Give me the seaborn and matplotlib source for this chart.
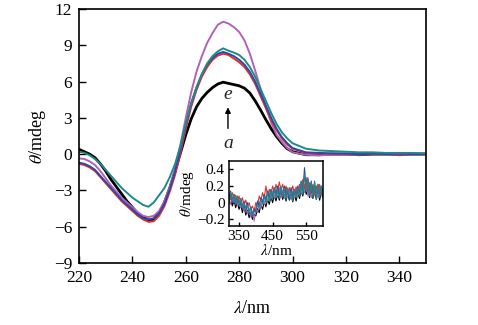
import numpy as np
import pandas as pd
import matplotlib
matplotlib.use("Agg")
import matplotlib.pyplot as plt
import seaborn as sns

# Main CD spectra (wavelength in nm, ellipticity in mdeg)
wavelength = [220, 222, 224, 226, 228, 230, 232, 234, 236, 238, 240, 242, 244, 246, 248,
              250, 252, 254, 256, 258, 260, 262, 264, 266, 268, 270, 272, 274, 276, 278,
              280, 282, 284, 286, 288, 290, 292, 294, 296, 298, 300,
              305, 310, 315, 320, 325, 330, 335, 340, 345, 350]

theta_a = [0.4, 0.2, 0.0, -0.3, -0.8, -1.4, -2.1, -2.7, -3.3, -3.9, -4.4, -4.9, -5.2, -5.45, -5.4,
           -4.9, -4.0, -2.8, -1.4, 0.1, 1.6, 2.9, 3.9, 4.6, 5.1, 5.5, 5.8, 5.95, 5.85, 5.75,
           5.65, 5.45, 5.05, 4.4, 3.65, 2.85, 2.1, 1.45, 0.9, 0.45, 0.2,
           -0.05, -0.05, 0.0, 0.0, -0.05, 0.0, 0.0, -0.05, 0.0, 0.0]
theta_b = [-0.8, -0.9, -1.1, -1.4, -1.9, -2.4, -2.9, -3.4, -3.9, -4.3, -4.7, -5.1, -5.4, -5.6, -5.55,
           -5.1, -4.3, -3.1, -1.7, 0.1, 2.1, 3.9, 5.3, 6.4, 7.2, 7.8, 8.15, 8.3, 8.2, 7.9,
           7.6, 7.2, 6.6, 5.8, 4.8, 3.8, 2.8, 2.0, 1.3, 0.8, 0.45,
           0.1, 0.05, 0.05, 0.0, 0.05, 0.0, 0.05, 0.0, 0.05, 0.05]
theta_c = [-0.7, -0.8, -1.0, -1.3, -1.8, -2.3, -2.8, -3.3, -3.8, -4.2, -4.6, -5.0, -5.3, -5.4, -5.3,
           -4.9, -4.1, -2.9, -1.4, 0.4, 2.4, 4.2, 5.5, 6.6, 7.4, 7.95, 8.3, 8.45, 8.3, 8.1,
           7.8, 7.4, 6.8, 6.0, 5.0, 4.0, 3.0, 2.1, 1.4, 0.9, 0.5,
           0.15, 0.1, 0.05, 0.05, 0.0, 0.05, 0.0, 0.05, 0.0, 0.0]
theta_d = [0.2, 0.1, -0.1, -0.4, -0.8, -1.3, -1.8, -2.3, -2.8, -3.2, -3.6, -3.9, -4.2, -4.35, -4.0,
           -3.4, -2.8, -1.9, -0.8, 0.7, 2.5, 4.2, 5.5, 6.6, 7.5, 8.1, 8.5, 8.75, 8.55, 8.4,
           8.2, 7.8, 7.2, 6.4, 5.4, 4.4, 3.4, 2.5, 1.8, 1.3, 0.9,
           0.45, 0.3, 0.25, 0.2, 0.15, 0.15, 0.1, 0.1, 0.1, 0.05]
theta_e = [-0.35, -0.4, -0.6, -0.9, -1.4, -2.0, -2.6, -3.1, -3.6, -4.0, -4.4, -4.8, -5.1, -5.2, -5.1,
           -4.7, -3.9, -2.7, -1.2, 0.8, 3.0, 5.1, 6.8, 8.1, 9.2, 10.0, 10.7, 10.95, 10.8, 10.5,
           10.1, 9.4, 8.3, 6.9, 5.4, 3.9, 2.6, 1.6, 1.0, 0.5, 0.15,
           -0.05, -0.1, -0.05, -0.05, -0.05, 0.0, -0.05, -0.05, -0.05, -0.05]

# Visible-range spectra for the inset
wavelength_vis = list(range(320, 601, 5))
vis_a = [0.02, 0.08, -0.04, 0.03, -0.06, 0.01, -0.08, -0.02, -0.12, -0.04,
         -0.15, -0.09, -0.18, -0.12, -0.20, -0.14, -0.16, -0.07, -0.12, -0.02,
         -0.08, 0.01, -0.05, 0.04, -0.02, 0.07, 0.0, 0.09, 0.02, 0.1,
         0.03, 0.12, 0.04, 0.1, 0.02, 0.11, 0.03, 0.09, 0.01, 0.1,
         0.02, 0.12, 0.05, 0.14, 0.08, 0.2, 0.1, 0.16, 0.06, 0.14,
         0.05, 0.15, 0.04, 0.13, 0.03, 0.12, 0.06]
vis_b = [0.1, 0.04, 0.12, 0.05, 0.09, 0.02, 0.08, -0.01, 0.06, -0.03,
         0.03, -0.05, 0.0, -0.08, -0.04, -0.1, 0.0, -0.04, 0.08, 0.02,
         0.12, 0.05, 0.2, 0.08, 0.16, 0.1, 0.2, 0.12, 0.22, 0.14,
         0.25, 0.15, 0.22, 0.12, 0.2, 0.1, 0.18, 0.12, 0.2, 0.11,
         0.19, 0.12, 0.22, 0.15, 0.28, 0.18, 0.3, 0.15, 0.24, 0.12,
         0.22, 0.1, 0.2, 0.12, 0.22, 0.1, 0.18]
vis_c = [0.06, 0.14, 0.0, 0.1, -0.02, 0.08, -0.04, 0.05, -0.08, 0.02,
         -0.1, 0.0, -0.14, -0.05, -0.16, -0.08, -0.1, 0.02, -0.04, 0.06,
         0.0, 0.1, 0.02, 0.14, 0.04, 0.16, 0.06, 0.18, 0.08, 0.2,
         0.08, 0.18, 0.06, 0.2, 0.08, 0.16, 0.04, 0.18, 0.06, 0.16,
         0.08, 0.2, 0.1, 0.26, 0.12, 0.42, 0.16, 0.3, 0.1, 0.26,
         0.08, 0.24, 0.06, 0.22, 0.08, 0.2, 0.1]
vis_d = [0.0, 0.12, 0.02, 0.1, -0.01, 0.07, -0.03, 0.04, -0.06, 0.0,
         -0.08, -0.03, -0.12, -0.06, -0.15, -0.1, -0.12, -0.02, -0.06, 0.04,
         -0.02, 0.08, 0.0, 0.12, 0.02, 0.15, 0.04, 0.17, 0.06, 0.16,
         0.05, 0.2, 0.08, 0.17, 0.04, 0.18, 0.06, 0.14, 0.02, 0.16,
         0.06, 0.18, 0.08, 0.24, 0.1, 0.34, 0.14, 0.28, 0.08, 0.24,
         0.06, 0.26, 0.04, 0.22, 0.06, 0.2, 0.08]
vis_e = [0.04, -0.02, 0.08, 0.0, 0.06, -0.03, 0.03, -0.06, 0.0, -0.09,
         -0.04, -0.13, -0.07, -0.17, -0.1, -0.22, -0.06, -0.12, 0.0, -0.06,
         0.04, -0.02, 0.08, 0.02, 0.12, 0.04, 0.14, 0.06, 0.16, 0.08,
         0.18, 0.06, 0.15, 0.05, 0.17, 0.07, 0.16, 0.04, 0.14, 0.06,
         0.15, 0.08, 0.18, 0.1, 0.26, 0.12, 0.22, 0.08, 0.2, 0.06,
         0.18, 0.08, 0.2, 0.06, 0.18, 0.08, 0.16]

samples = ["a", "b", "c", "d", "e"]
colors = {"a": "#000000", "b": "#e8302a", "c": "#2b49a6", "d": "#1f8a86", "e": "#b262b6"}
widths = {"a": 2.0, "b": 1.4, "c": 1.4, "d": 1.4, "e": 1.4}
draw_order = ["a", "e", "b", "c", "d"]

main_df = pd.DataFrame({
    "wl": wavelength * 5,
    "theta": theta_a + theta_b + theta_c + theta_d + theta_e,
    "sample": sum([[s] * len(wavelength) for s in samples], []),
})
vis_df = pd.DataFrame({
    "wl": wavelength_vis * 5,
    "theta": vis_a + vis_b + vis_c + vis_d + vis_e,
    "sample": sum([[s] * len(wavelength_vis) for s in samples], []),
})

sns.set_theme(style="white")
plt.rcParams["font.family"] = ["Liberation Serif", "DejaVu Serif"]
plt.rcParams["mathtext.fontset"] = "stix"
plt.rcParams["axes.unicode_minus"] = True

fig = plt.figure(figsize=(4.78, 3.25), dpi=100)
ax = fig.add_axes([0.1653, 0.1908, 0.726, 0.7815])

for s in draw_order:
    sns.lineplot(data=main_df[main_df["sample"] == s], x="wl", y="theta",
                 color=colors[s], lw=widths[s], ax=ax, legend=False,
                 estimator=None, sort=False)

ax.set_xlim(220, 350)
ax.set_ylim(-9, 12)
ax.set_xticks([220, 240, 260, 280, 300, 320, 340])
ax.set_yticks([-9, -6, -3, 0, 3, 6, 9, 12])
ax.tick_params(direction="in", length=5, width=1.0, labelsize=12.5, pad=5,
               colors="black", bottom=True, left=True, top=False, right=False)
for sp in ax.spines.values():
    sp.set_color("black")
    sp.set_linewidth(1.2)
ax.set_xlabel(r"$\lambda$/nm", fontsize=13, labelpad=10, color="black")
ax.set_ylabel(r"$\theta$/mdeg", fontsize=13, labelpad=4, color="black")

# arrow from a to e
ax.annotate("", xy=(275.8, 4.1), xytext=(275.8, 1.9),
            arrowprops=dict(arrowstyle="-|>", color="black", lw=1.0, mutation_scale=8))
ax.text(275.8, 4.9, "e", fontsize=14, style="italic", ha="center", va="center")
ax.text(275.8, 0.9, "a", fontsize=14, style="italic", ha="center", va="center")

# inset with the visible region
ins = fig.add_axes([0.479, 0.3046, 0.1967, 0.2])
for s in draw_order:
    sns.lineplot(data=vis_df[vis_df["sample"] == s], x="wl", y="theta",
                 color=colors[s], lw=0.8, ax=ins, legend=False,
                 estimator=None, sort=False)
ins.set_xlim(320, 600)
ins.set_ylim(-0.28, 0.5)
ins.set_xticks([350, 450, 550])
ins.set_yticks([-0.2, 0, 0.2, 0.4])
ins.set_yticklabels(["\u22120.2", "0", "0.2", "0.4"])
ins.tick_params(direction="in", length=3, width=1.0, labelsize=11, pad=3,
                colors="black", bottom=True, left=True, top=False, right=False)
for sp in ins.spines.values():
    sp.set_color("black")
    sp.set_linewidth(1.1)
ins.set_xlabel(r"$\lambda$/nm", fontsize=11, labelpad=0, color="black")
ins.set_ylabel(r"$\theta$/mdeg", fontsize=11, labelpad=1, color="black")

fig.savefig("out.png", dpi=100)
